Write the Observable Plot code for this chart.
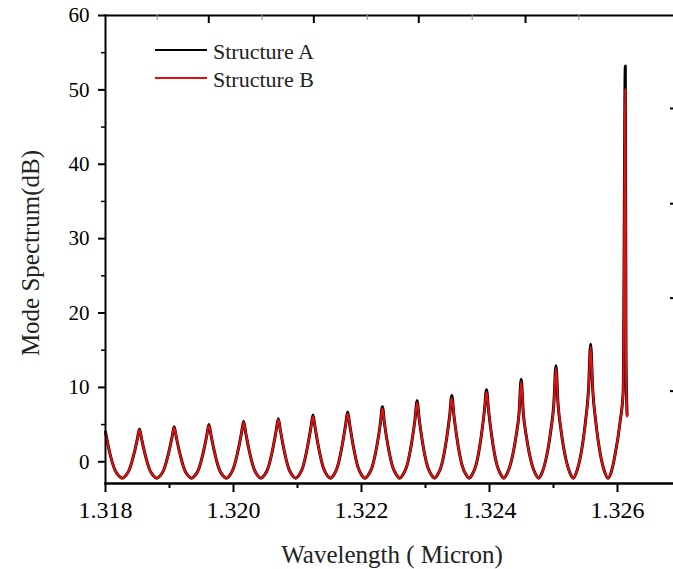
<!DOCTYPE html>
<html><head><meta charset="utf-8">
<script src="https://cdn.jsdelivr.net/npm/d3@7"></script>
<script src="https://cdn.jsdelivr.net/npm/@observablehq/plot@0.6"></script>
<style>
body{margin:0;background:#fff;}
#wrap{position:relative;width:673px;height:569px;overflow:hidden;}
</style></head><body><div id="wrap"></div>
<script>
// Wavelength samples (micron), shared by both structures
const wavelength = [
 1.318000, 1.318070, 1.318152, 1.318206, 1.318260,
 1.318314, 1.318368, 1.318450, 1.318498, 1.318531, 1.318564, 1.318612, 1.318694, 1.318748, 1.318802,
 1.318856, 1.318910, 1.318992, 1.319040, 1.319073, 1.319106, 1.319154, 1.319236, 1.319290, 1.319344,
 1.319399, 1.319453, 1.319535, 1.319583, 1.319616, 1.319649, 1.319697, 1.319779, 1.319833, 1.319887,
 1.319941, 1.319995, 1.320077, 1.320125, 1.320158, 1.320191, 1.320239, 1.320321, 1.320375, 1.320429,
 1.320483, 1.320537, 1.320619, 1.320667, 1.320700, 1.320733, 1.320781, 1.320863, 1.320917, 1.320971,
 1.321025, 1.321079, 1.321161, 1.321209, 1.321242, 1.321275, 1.321323, 1.321405, 1.321459, 1.321513,
 1.321567, 1.321621, 1.321703, 1.321751, 1.321784, 1.321817, 1.321865, 1.321947, 1.322001, 1.322055,
 1.322110, 1.322164, 1.322246, 1.322294, 1.322327, 1.322360, 1.322408, 1.322490, 1.322544, 1.322598,
 1.322652, 1.322706, 1.322788, 1.322836, 1.322869, 1.322902, 1.322950, 1.323032, 1.323086, 1.323140,
 1.323194, 1.323248, 1.323330, 1.323378, 1.323411, 1.323444, 1.323492, 1.323574, 1.323628, 1.323682,
 1.323736, 1.323790, 1.323872, 1.323920, 1.323953, 1.323986, 1.324034, 1.324116, 1.324170, 1.324224,
 1.324278, 1.324332, 1.324414, 1.324462, 1.324495, 1.324528, 1.324576, 1.324658, 1.324712, 1.324766,
 1.324821, 1.324875, 1.324957, 1.325005, 1.325038, 1.325071, 1.325119, 1.325201, 1.325255, 1.325309,
 1.325363, 1.325417, 1.325499, 1.325547, 1.325580, 1.325613, 1.325661, 1.325743, 1.325797, 1.325851,
 1.325905, 1.325959, 1.326041, 1.326089, 1.326122, 1.326133, 1.326150
];
// Mode spectrum (dB), Structure A
const structureA = [
 4.0, 1.08, -1.2, -1.89, -2.2,
 -1.87, -1.14, 1.23, 3.08, 4.4, 3.08, 1.23, -1.14, -1.87, -2.2,
 -1.86, -1.10, 1.39, 3.32, 4.7, 3.32, 1.39, -1.10, -1.86, -2.2,
 -1.84, -1.05, 1.54, 3.56, 5.0, 3.56, 1.54, -1.05, -1.84, -2.2,
 -1.82, -0.98, 1.75, 3.88, 5.4, 3.88, 1.75, -0.98, -1.82, -2.2,
 -1.80, -0.92, 1.96, 4.20, 5.8, 4.20, 1.96, -0.92, -1.80, -2.2,
 -1.78, -0.84, 2.22, 4.60, 6.3, 4.60, 2.22, -0.84, -1.78, -2.2,
 -1.76, -0.78, 2.43, 4.92, 6.7, 4.92, 2.43, -0.78, -1.76, -2.2,
 -1.72, -0.76, 2.41, 5.10, 7.4, 5.10, 2.41, -0.76, -1.72, -2.2,
 -1.68, -0.64, 2.79, 5.70, 8.2, 5.70, 2.79, -0.64, -1.68, -2.2,
 -1.65, -0.54, 3.13, 6.24, 8.9, 6.24, 3.13, -0.54, -1.65, -2.2,
 -1.61, -0.42, 3.51, 6.84, 9.7, 6.84, 3.51, -0.42, -1.61, -2.2,
 -1.54, -0.20, 3.39, 6.58, 11.1, 6.58, 3.39, -0.20, -1.54, -2.2,
 -1.45, 0.07, 4.14, 7.77, 12.9, 7.77, 4.14, 0.07, -1.45, -2.2,
 -1.30, 0.50, 5.36, 9.68, 15.8, 9.68, 5.36, 0.50, -1.30, -2.2,
 -1.30, 0.80, 5.40, 9.50, 53.2, 14.0, 6.3
];
// Mode spectrum (dB), Structure B
const structureB = [
 3.9, 1.08, -1.2, -1.89, -2.2,
 -1.87, -1.14, 1.23, 3.02, 4.3, 3.12, 1.23, -1.14, -1.87, -2.2,
 -1.86, -1.10, 1.39, 3.26, 4.6, 3.36, 1.39, -1.10, -1.86, -2.2,
 -1.84, -1.05, 1.54, 3.50, 4.9, 3.60, 1.54, -1.05, -1.84, -2.2,
 -1.82, -0.98, 1.75, 3.82, 5.3, 3.92, 1.75, -0.98, -1.82, -2.2,
 -1.80, -0.92, 1.96, 4.14, 5.7, 4.24, 1.96, -0.92, -1.80, -2.2,
 -1.78, -0.84, 2.22, 4.52, 6.1, 4.65, 2.22, -0.84, -1.78, -2.2,
 -1.76, -0.78, 2.43, 4.84, 6.5, 4.97, 2.43, -0.78, -1.76, -2.2,
 -1.72, -0.76, 2.41, 5.00, 7.2, 5.15, 2.41, -0.76, -1.72, -2.2,
 -1.68, -0.64, 2.79, 5.60, 8.0, 5.78, 2.79, -0.64, -1.68, -2.2,
 -1.65, -0.54, 3.13, 6.12, 8.6, 6.30, 3.13, -0.54, -1.65, -2.2,
 -1.61, -0.42, 3.51, 6.70, 9.4, 6.90, 3.51, -0.42, -1.61, -2.2,
 -1.54, -0.20, 3.39, 6.45, 10.8, 6.65, 3.39, -0.20, -1.54, -2.2,
 -1.45, 0.07, 4.14, 7.60, 12.6, 7.85, 4.14, 0.07, -1.45, -2.2,
 -1.30, 0.50, 5.36, 9.50, 15.5, 9.75, 5.36, 0.50, -1.30, -2.2,
 -1.30, 0.80, 5.40, 9.40, 50.1, 14.2, 6.1
];
const seriesNames = ["Structure A", "Structure B"];
const seriesColors = ["#000000", "#e01010"];
const xTicks = [1.318, 1.320, 1.322, 1.324, 1.326];
const xMinorTicks = [1.319, 1.321, 1.323, 1.325];
const yTicks = [0, 10, 20, 30, 40, 50, 60];
const yMinorTicks = [5, 15, 25, 35, 45, 55];
const topMajorTicks = [1.319614, 1.321255, 1.322895, 1.324563];
const topMinorTicks = [1.318808, 1.320448, 1.322089, 1.323730, 1.325395];
const rightTicks = [9.5, 22.0, 34.7, 47.5];
const xTitle = "Wavelength ( Micron)";
const yTitle = "Mode Spectrum(dB)";

const rowsA = wavelength.map((w, i) => ({w, v: structureA[i]}));
const rowsB = wavelength.map((w, i) => ({w, v: structureB[i]}));

const W = 673, H = 569, mT = 15, mB = 86;
const frameH = H - mT - mB;
const font = "'Liberation Serif', 'Times New Roman', serif";
const plot = Plot.plot({
  width: W, height: H,
  marginLeft: 105, marginRight: 0, marginTop: mT, marginBottom: mB,
  x: {domain: [1.318, 1.326875]},
  y: {domain: [-2.92, 60]},
  style: {fontFamily: font, background: "#fff", color: "#000", overflow: "visible"},
  marks: [
    Plot.line(rowsA, {x: "w", y: "v", stroke: seriesColors[0], strokeWidth: 3, curve: "monotone-x"}),
    Plot.line(rowsB, {x: "w", y: "v", stroke: seriesColors[1], strokeWidth: 2.1, curve: "monotone-x"}),
    Plot.frame({anchor: "bottom", strokeWidth: 2.5}),
    Plot.frame({anchor: "left", strokeWidth: 2}),
    Plot.frame({anchor: "top", strokeWidth: 2}),
    Plot.axisX({ticks: xTicks, tickFormat: d3.format(".3f"), tickSize: 9, tickPadding: 8, fontSize: 24, strokeWidth: 2, label: null}),
    Plot.axisX({ticks: xMinorTicks, tickFormat: () => "", tickSize: 5, strokeWidth: 2, label: null}),
    Plot.tickX(topMajorTicks, {x: d => d, insetBottom: frameH - 8, strokeWidth: 2, stroke: "#000"}),
    Plot.tickX(topMinorTicks, {x: d => d, insetBottom: frameH - 5, strokeWidth: 1.2, stroke: "#999"}),
    Plot.axisY({ticks: yTicks, tickFormat: d3.format("d"), tickSize: 7, tickPadding: 9, fontSize: 21, strokeWidth: 2, label: null}),
    Plot.axisY({ticks: yMinorTicks, tickFormat: () => "", tickSize: 4, strokeWidth: 1.5, label: null}),
    Plot.axisY({anchor: "right", ticks: rightTicks, tickFormat: () => "", tickSize: -4, strokeWidth: 2, label: null})
  ]
});

const svg = d3.select(plot);
// axis titles
svg.append("text")
  .attr("transform", "translate(30,253) rotate(-90)")
  .attr("text-anchor", "middle").attr("dominant-baseline", "central")
  .attr("font-family", font).attr("font-size", 25).attr("fill", "#222")
  .text(yTitle);
svg.append("text")
  .attr("x", 392).attr("y", 563)
  .attr("text-anchor", "middle")
  .attr("font-family", font).attr("font-size", 25).attr("fill", "#222")
  .text(xTitle);
// legend
const lg = svg.append("g");
seriesNames.forEach((name, i) => {
  const y = 50 + i * 28;
  lg.append("line").attr("x1", 155).attr("x2", 207).attr("y1", y).attr("y2", y)
    .attr("stroke", seriesColors[i]).attr("stroke-width", 2);
  lg.append("text").attr("x", 213).attr("y", y + 1)
    .attr("text-anchor", "start").attr("dominant-baseline", "central")
    .attr("font-family", font).attr("font-size", 22).attr("fill", "#222")
    .text(name);
});
document.getElementById("wrap").appendChild(plot);
</script>
</body></html>
